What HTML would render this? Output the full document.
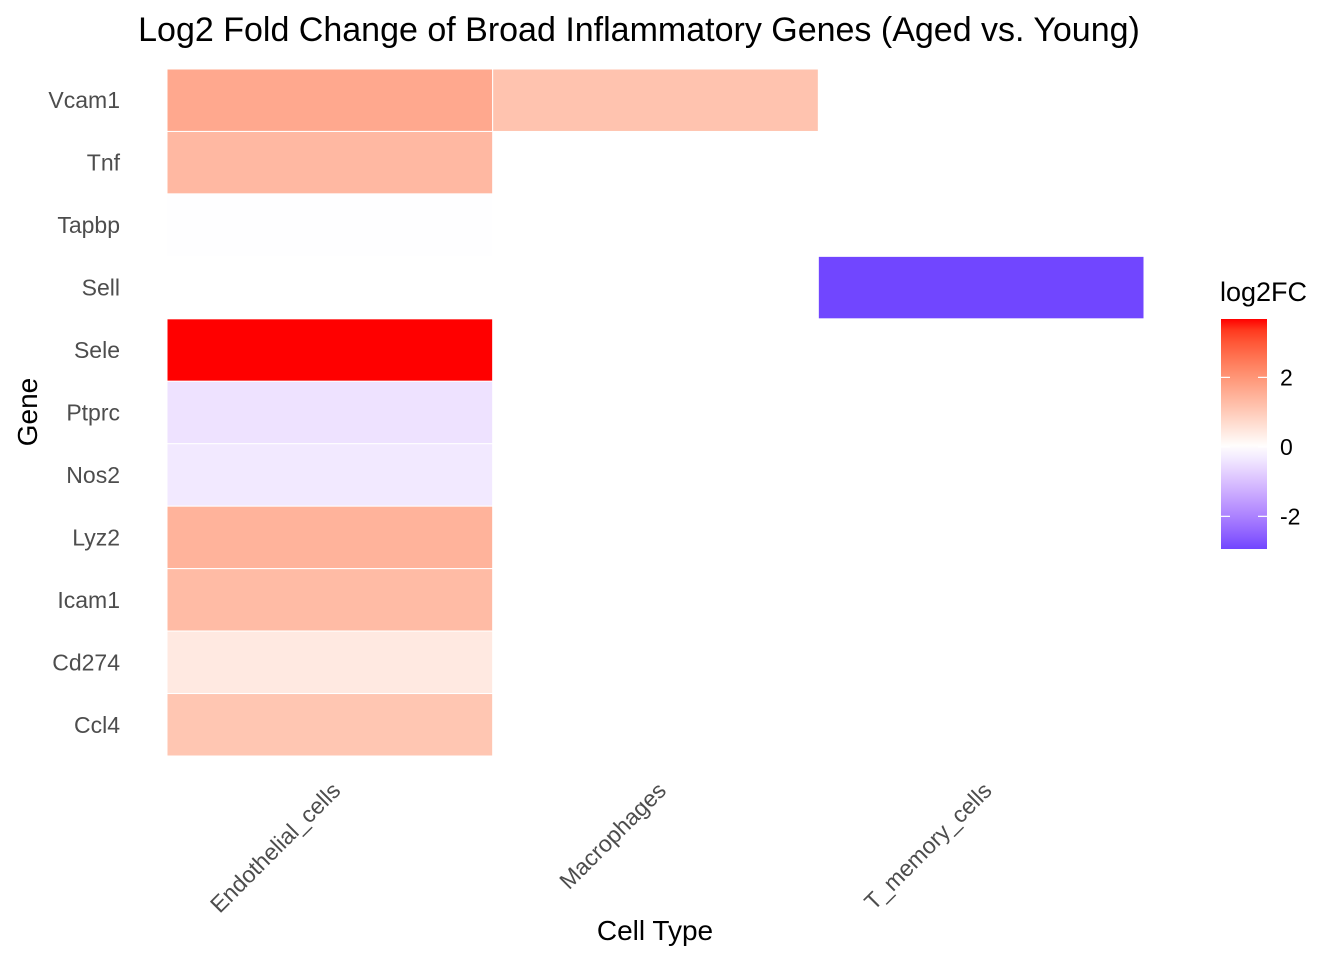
<!DOCTYPE html>
<html><head><meta charset="utf-8"><style>
html,body{margin:0;padding:0;background:#fff;}
svg{display:block;font-family:"Liberation Sans",Arial,sans-serif;}
</style></head><body>
<svg id="chart" width="1344" height="960" viewBox="0 0 1344 960">
<defs>
<linearGradient id="cbar" x1="0" y1="1" x2="0" y2="0"></linearGradient>
</defs>
<text x="639" y="41" text-anchor="middle" font-size="34" fill="#000">Log2 Fold Change of Broad Inflammatory Genes (Aged vs. Young)</text>
<g id="tiles"></g>
<g id="ylabels"></g>
<g id="xlabels"></g>
<text transform="translate(37,412) rotate(-90)" text-anchor="middle" font-size="28" fill="#000">Gene</text>
<text x="655" y="940" text-anchor="middle" font-size="28" fill="#000">Cell Type</text>
<g>
<text x="1220" y="301" font-size="27" fill="#000">log2FC</text>
<rect x="1221" y="319" width="46" height="230" fill="url(#cbar)"/>
<g id="legticks"></g>
</g>
</svg>
<script>
const genes = ["Vcam1","Tnf","Tapbp","Sell","Sele","Ptprc","Nos2","Lyz2","Icam1","Cd274","Ccl4"];
const cellTypes = ["Endothelial_cells","Macrophages","T_memory_cells"];
const tileGene = ["Vcam1","Vcam1","Tnf","Tapbp","Sell","Sele","Ptprc","Nos2","Lyz2","Icam1","Cd274","Ccl4"];
const tileCell = ["Endothelial_cells","Macrophages","Endothelial_cells","Endothelial_cells","T_memory_cells","Endothelial_cells","Endothelial_cells","Endothelial_cells","Endothelial_cells","Endothelial_cells","Endothelial_cells","Endothelial_cells"];
const tileValue = [1.65,1.15,1.35,-0.02,-2.94,3.68,-0.45,-0.35,1.45,1.3,0.42,1.1];
const legendTicks = [-2,0,2];

const NS="http://www.w3.org/2000/svg";
const px0=167,px1=1144,py0=69,py1=756;
const colW=(px1-px0)/cellTypes.length, rowH=(py1-py0)/genes.length;
function xPos(c){return px0+cellTypes.indexOf(c)*colW;}
function yPos(g){return py0+genes.indexOf(g)*rowH;}
const vmax=Math.max(...tileValue), vmin=Math.min(...tileValue);
const absMax=Math.max(Math.abs(vmax),Math.abs(vmin));
function toLin(c){c/=255;return c<=0.04045?c/12.92:Math.pow((c+0.055)/1.055,2.4);}
function fromLin(c){c=c<=0.0031308?12.92*c:1.055*Math.pow(c,1/2.4)-0.055;return Math.max(0,Math.min(255,Math.round(c*255)));}
function rgb2lab(r,g,b){r=toLin(r);g=toLin(g);b=toLin(b);
 let X=(0.4124*r+0.3576*g+0.1805*b)/0.95047,Y=0.2126*r+0.7152*g+0.0722*b,Z=(0.0193*r+0.1192*g+0.9505*b)/1.08883;
 const f=t=>t>0.008856?Math.cbrt(t):7.787*t+16/116;
 return [116*f(Y)-16,500*(f(X)-f(Y)),200*(f(Y)-f(Z))];}
function lab2rgb(L,a,b){let fy=(L+16)/116,fx=fy+a/500,fz=fy-b/200;
 const fi=t=>t*t*t>0.008856?t*t*t:(t-16/116)/7.787;
 let X=fi(fx)*0.95047,Y=fi(fy),Z=fi(fz)*1.08883;
 let r=3.2406*X-1.5372*Y-0.4986*Z,g=-0.9689*X+1.8758*Y+0.0415*Z,bb=0.0557*X-0.2040*Y+1.0570*Z;
 return `rgb(${fromLin(r)},${fromLin(g)},${fromLin(bb)})`;}
const W=rgb2lab(255,255,255),R=rgb2lab(255,0,0),B=rgb2lab(0,0,255);
function color(v){const t=Math.min(1,Math.abs(v)/absMax);const E=v>=0?R:B;
 return lab2rgb(W[0]+(E[0]-W[0])*t,W[1]+(E[1]-W[1])*t,W[2]+(E[2]-W[2])*t);}

const tg=document.getElementById('tiles');
tileValue.forEach((v,i)=>{
 const r=document.createElementNS(NS,'rect');
 r.setAttribute('x',xPos(tileCell[i]));r.setAttribute('y',yPos(tileGene[i]));
 r.setAttribute('width',colW);r.setAttribute('height',rowH);
 r.setAttribute('fill',color(v));r.setAttribute('stroke','#fff');r.setAttribute('stroke-width','1');
 
 
 tg.appendChild(r);
});
const yg=document.getElementById('ylabels');
genes.forEach(g=>{
 const t=document.createElementNS(NS,'text');
 t.setAttribute('x',120);t.setAttribute('y',yPos(g)+rowH/2+8);
 t.setAttribute('text-anchor','end');t.setAttribute('font-size','23');t.setAttribute('fill','#4D4D4D');
 t.textContent=g;
 
 
 yg.appendChild(t);
});
const xg=document.getElementById('xlabels');
cellTypes.forEach(c=>{
 const cx=xPos(c)+colW/2+12, cy=792;
 const t=document.createElementNS(NS,'text');
 t.setAttribute('transform',`translate(${cx},${cy}) rotate(-45)`);
 t.setAttribute('text-anchor','end');t.setAttribute('font-size','23');t.setAttribute('fill','#4D4D4D');
 t.textContent=c;
 
 
 xg.appendChild(t);
});
const grad=document.getElementById('cbar');
for(let i=0;i<=20;i++){const v=vmin+(vmax-vmin)*i/20;
 const s=document.createElementNS(NS,'stop');s.setAttribute('offset',(i/20));s.setAttribute('stop-color',color(v));grad.appendChild(s);}
const cbTop=319,cbBot=549;
function cbY(v){return cbBot-(v-vmin)/(vmax-vmin)*(cbBot-cbTop);}
const lt=document.getElementById('legticks');
legendTicks.forEach(v=>{
 const y=cbY(v);
 [[1221,1230],[1258,1267]].forEach(([a,b])=>{const l=document.createElementNS(NS,'line');
  l.setAttribute('x1',a);l.setAttribute('x2',b);l.setAttribute('y1',y);l.setAttribute('y2',y);l.setAttribute('stroke','#fff');l.setAttribute('stroke-width','1.2');
  
  
  lt.appendChild(l);});
 const t=document.createElementNS(NS,'text');
 t.setAttribute('x',1280);t.setAttribute('y',y+8);t.setAttribute('font-size','23');t.setAttribute('fill','#000');
 t.textContent=String(v);
 
 
 lt.appendChild(t);
});
</script>
</body></html>
